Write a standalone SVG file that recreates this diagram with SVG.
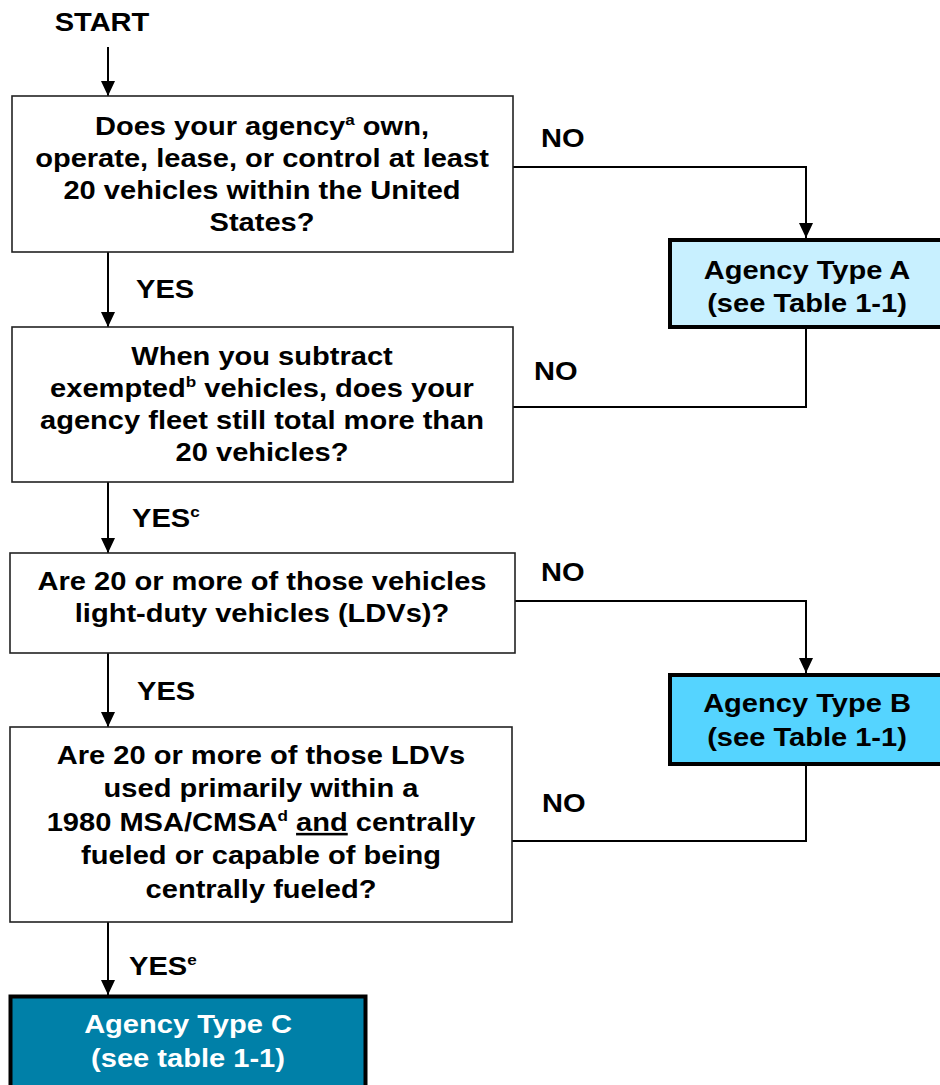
<svg xmlns="http://www.w3.org/2000/svg" width="940" height="1085" viewBox="0 0 940 1085">
<style>
text{font-family:"Liberation Sans",Arial,Helvetica,sans-serif;font-weight:bold;font-size:25.5px;fill:#000}
.c{text-anchor:middle}
.w{fill:#fff}
.sup{font-size:15px}
.q{fill:#fff;stroke:#222;stroke-width:1.6}
.t{stroke:#000;stroke-width:4}
.ln{fill:none;stroke:#000;stroke-width:2}
.ar{marker-end:url(#ah)}
</style>
<defs>
<marker id="ah" markerWidth="15" markerHeight="14" refX="15" refY="7" orient="auto" markerUnits="userSpaceOnUse" viewBox="0 0 15 14">
<path d="M0,0 L15,7 L0,14 Z" fill="#000"/>
</marker>
</defs>
<rect width="940" height="1085" fill="#fff"/>

<g id="connectors">
<path class="ln ar" d="M108,47 V96"/>
<path class="ln ar" d="M108,252 V327"/>
<path class="ln ar" d="M108,482 V553"/>
<path class="ln ar" d="M108,653 V727"/>
<path class="ln ar" d="M108,922 V995"/>
<path class="ln ar" d="M513,167 H806 V238"/>
<path class="ln" d="M806,327 V407 H513"/>
<path class="ln ar" d="M515,601 H806 V673"/>
<path class="ln" d="M806,765 V841 H512"/>
</g>

<g id="start">
<text transform="translate(102,0) scale(1.14,1)" class="c" y="31">START</text>
</g>

<g id="q1">
<rect class="q" x="12" y="96" width="501" height="156"/>
<g transform="translate(262,0) scale(1.14,1)">
<text class="c" x="0" y="135">Does your agency<tspan class="sup" dy="-10">a</tspan><tspan dy="10"> own,</tspan></text>
<text class="c" x="0" y="167">operate, lease, or control at least</text>
<text class="c" x="0" y="199">20 vehicles within the United</text>
<text class="c" x="0" y="231">States?</text>
</g>
</g>

<g id="q2">
<rect class="q" x="12" y="327" width="501" height="155"/>
<g transform="translate(262,0) scale(1.14,1)">
<text class="c" x="0" y="365">When you subtract</text>
<text class="c" x="0" y="397">exempted<tspan class="sup" dy="-10">b</tspan><tspan dy="10"> vehicles, does your</tspan></text>
<text class="c" x="0" y="429">agency fleet still total more than</text>
<text class="c" x="0" y="461">20 vehicles?</text>
</g>
</g>

<g id="q3">
<rect class="q" x="10" y="553" width="505" height="100"/>
<g transform="translate(262,0) scale(1.14,1)">
<text class="c" x="0" y="590">Are 20 or more of those vehicles</text>
<text class="c" x="0" y="622">light-duty vehicles (LDVs)?</text>
</g>
</g>

<g id="q4">
<rect class="q" x="10" y="727" width="502" height="195"/>
<g transform="translate(261,0) scale(1.14,1)">
<text class="c" x="0" y="764">Are 20 or more of those LDVs</text>
<text class="c" x="0" y="797">used primarily within a</text>
<text class="c" x="0" y="831">1980 MSA/CMSA<tspan class="sup" dy="-10">d</tspan><tspan dy="10"> </tspan><tspan text-decoration="underline">and</tspan> centrally</text>
<text class="c" x="0" y="864">fueled or capable of being</text>
<text class="c" x="0" y="898">centrally fueled?</text>
</g>
</g>

<g id="typeA">
<rect class="t" x="670" y="240" width="276" height="87" fill="#C8F0FF"/>
<g transform="translate(807,0) scale(1.14,1)">
<text class="c" x="0" y="279">Agency Type A</text>
<text class="c" x="0" y="312">(see Table 1-1)</text>
</g>
</g>

<g id="typeB">
<rect class="t" x="670" y="675" width="276" height="89" fill="#55D4FF"/>
<g transform="translate(807,0) scale(1.14,1)">
<text class="c" x="0" y="712">Agency Type B</text>
<text class="c" x="0" y="746">(see Table 1-1)</text>
</g>
</g>

<g id="typeC">
<rect class="t" x="10.5" y="996.5" width="355" height="100" fill="#0080A8"/>
<g transform="translate(188,0) scale(1.14,1)">
<text class="c w" x="0" y="1033">Agency Type C</text>
<text class="c w" x="0" y="1067">(see table 1-1)</text>
</g>
</g>

<g id="labels">
<text transform="translate(541,147) scale(1.14,1)">NO</text>
<text transform="translate(534,380) scale(1.14,1)">NO</text>
<text transform="translate(541,581) scale(1.14,1)">NO</text>
<text transform="translate(542,812) scale(1.14,1)">NO</text>
<text transform="translate(136,298) scale(1.14,1)">YES</text>
<text transform="translate(132,527) scale(1.14,1)">YES<tspan class="sup" dy="-10">c</tspan></text>
<text transform="translate(137,700) scale(1.14,1)">YES</text>
<text transform="translate(129,975) scale(1.14,1)">YES<tspan class="sup" dy="-10">e</tspan></text>
</g>
</svg>
